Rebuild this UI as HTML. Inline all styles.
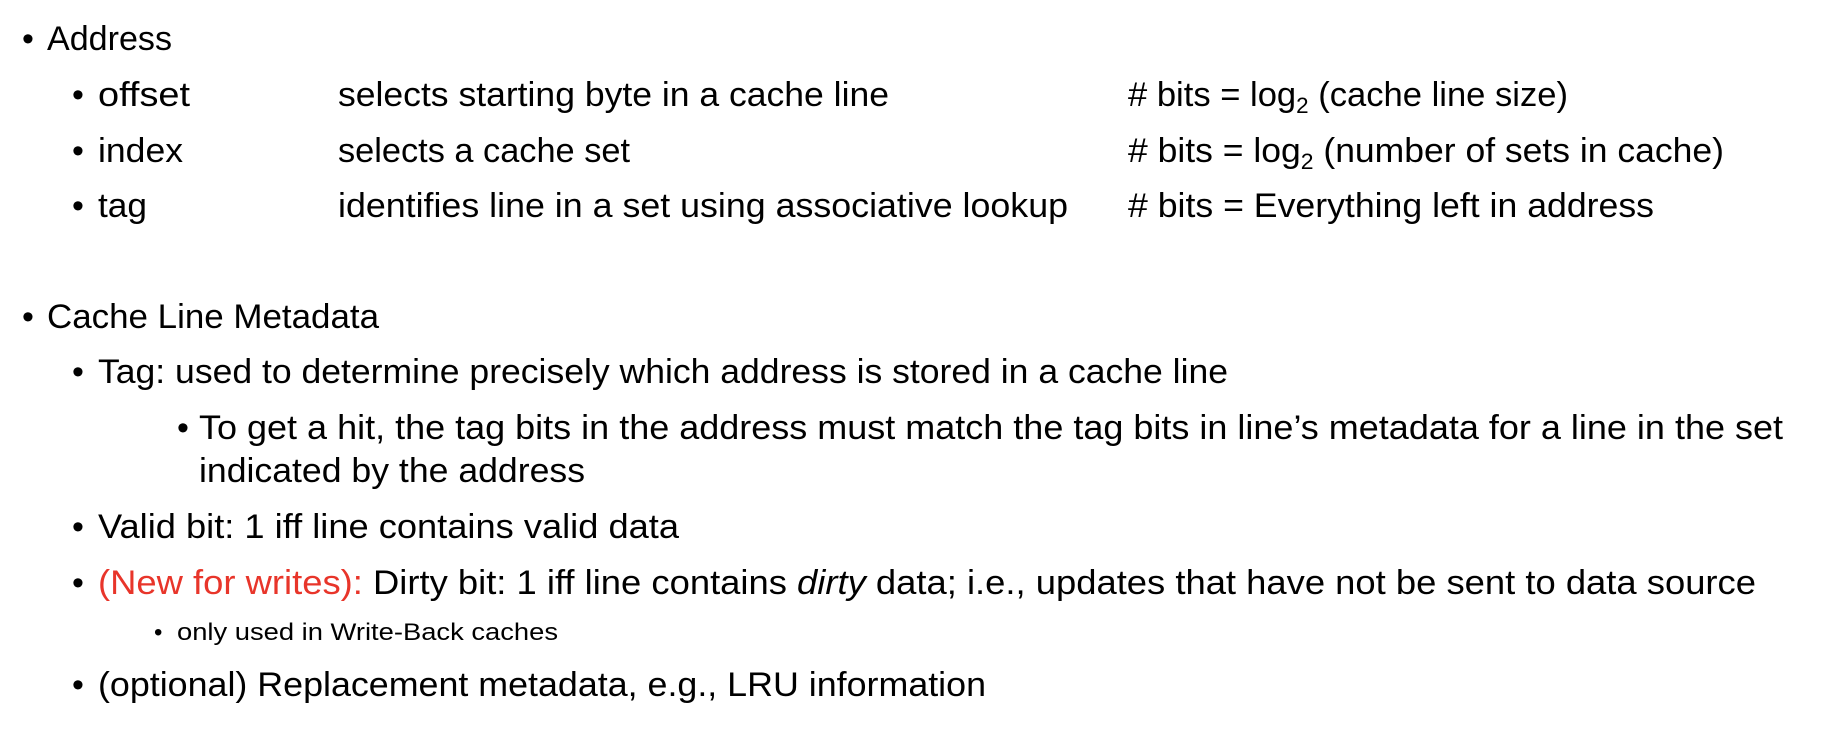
<!DOCTYPE html>
<html><head><meta charset="utf-8"><style>
html,body{margin:0;padding:0;background:#fff;width:1846px;height:754px;overflow:hidden}
svg{display:block}
text{font-family:"Liberation Sans",sans-serif;fill:#000}
.b{font-size:34px}
.s{font-size:24px}
</style></head><body>
<svg width="1846" height="754" viewBox="0 0 1846 754">
<g class="b">
<text x="22" y="50">•</text>
<text x="47" y="50" textLength="125" lengthAdjust="spacingAndGlyphs">Address</text>

<text x="72" y="106">•</text>
<text x="98" y="106" textLength="92" lengthAdjust="spacingAndGlyphs">offset</text>
<text x="338" y="106" textLength="551" lengthAdjust="spacingAndGlyphs">selects starting byte in a cache line</text>
<text x="1128" y="106" textLength="440" lengthAdjust="spacingAndGlyphs"># bits = log<tspan font-size="22" dy="7">2</tspan><tspan dy="-7"> (cache line size)</tspan></text>

<text x="72" y="162">•</text>
<text x="98" y="162" textLength="85" lengthAdjust="spacingAndGlyphs">index</text>
<text x="338" y="162" textLength="292" lengthAdjust="spacingAndGlyphs">selects a cache set</text>
<text x="1128" y="162" textLength="596" lengthAdjust="spacingAndGlyphs"># bits = log<tspan font-size="22" dy="7">2</tspan><tspan dy="-7"> (number of sets in cache)</tspan></text>

<text x="72" y="217">•</text>
<text x="98" y="217" textLength="49" lengthAdjust="spacingAndGlyphs">tag</text>
<text x="338" y="217" textLength="730" lengthAdjust="spacingAndGlyphs">identifies line in a set using associative lookup</text>
<text x="1128" y="217" textLength="526" lengthAdjust="spacingAndGlyphs"># bits = Everything left in address</text>

<text x="22" y="328">•</text>
<text x="47" y="328" textLength="332" lengthAdjust="spacingAndGlyphs">Cache Line Metadata</text>

<text x="72" y="383">•</text>
<text x="98" y="383" textLength="1130" lengthAdjust="spacingAndGlyphs">Tag: used to determine precisely which address is stored in a cache line</text>

<text x="177" y="439">•</text>
<text x="199" y="439" textLength="1584" lengthAdjust="spacingAndGlyphs">To get a hit, the tag bits in the address must match the tag bits in line’s metadata for a line in the set</text>
<text x="199" y="482" textLength="386" lengthAdjust="spacingAndGlyphs">indicated by the address</text>

<text x="72" y="538">•</text>
<text x="98" y="538" textLength="581" lengthAdjust="spacingAndGlyphs">Valid bit: 1 iff line contains valid data</text>

<text x="72" y="594">•</text>
<text x="98" y="594" textLength="1658" lengthAdjust="spacingAndGlyphs"><tspan fill="#e8352a" style="fill:#e8352a">(New for writes):</tspan> Dirty bit: 1 iff line contains <tspan font-style="italic">dirty</tspan> data; i.e., updates that have not be sent to data source</text>

<text x="72" y="696">•</text>
<text x="98" y="696" textLength="888" lengthAdjust="spacingAndGlyphs">(optional) Replacement metadata, e.g., LRU information</text>
</g>
<g class="s">
<text x="154" y="640">•</text>
<text x="177" y="640" textLength="381" lengthAdjust="spacingAndGlyphs">only used in Write-Back caches</text>
</g>
</svg>
</body></html>
